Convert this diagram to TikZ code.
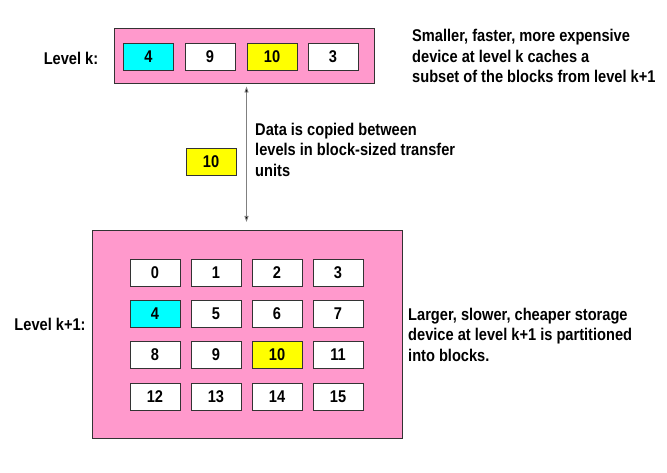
\documentclass[tikz,border=0pt]{standalone}
\usepackage{fontspec}
\setmainfont{Liberation Sans}[FakeStretch=0.86]
\usetikzlibrary{arrows.meta}
\definecolor{pinkbg}{HTML}{FF99CC}
\definecolor{edge}{HTML}{333333}
\definecolor{cyanfill}{HTML}{00FFFF}
\definecolor{yelfill}{HTML}{FFFF00}
\begin{document}
\begin{tikzpicture}[x=1pt,y=-1pt,
  lbl/.style={font=\fontsize{17}{21}\selectfont\bfseries},
  note/.style={font=\fontsize{17}{20.7}\selectfont\bfseries, align=left, anchor=north west, inner sep=0pt},
  device/.style={draw=edge, line width=1pt, fill=pinkbg},
  blk/.style={draw=edge, line width=0.8pt, fill=white, minimum width=50pt, minimum height=27pt, inner sep=0pt, font=\fontsize{17}{18}\selectfont\bfseries},
  cyanblk/.style={blk, fill=cyanfill},
  yelblk/.style={blk, fill=yelfill},
  xfer/.style={draw=gray, line width=0.8pt, {Triangle[length=6pt,width=4pt,fill=black]}-{Triangle[length=6pt,width=4pt,fill=black]}}
]
\useasboundingbox (0,0) rectangle (667,473);
% Level k
\node[device, minimum width=260pt, minimum height=55pt, inner sep=0pt] (top) at (244,56.5) {};
\node[lbl] (lk) at (71,58) {Level k:};
\node[cyanblk] (t4) at (148.5,57) {4};
\node[blk] (t9) at (210,57) {9};
\node[yelblk] (t10) at (272,57) {10};
\node[blk] (t3) at (333,57) {3};
\node[note] (ntop) at (412,29) {Smaller, faster, more expensive\\device at level k caches a\\subset of the blocks from level k+1};
% Level k+1
\node[device, minimum width=310pt, minimum height=207pt, inner sep=0pt] (bot) at (247,334.5) {};
\node[lbl] (lk1) at (50,324.5) {Level k+1:};
\foreach \n [count=\i from 0] in {0,...,15} {
  \pgfmathtruncatemacro{\c}{mod(\i,4)}
  \pgfmathtruncatemacro{\r}{div(\i,4)}
  \pgfmathsetmacro{\xx}{155+61*\c}
  \pgfmathsetmacro{\yy}{272.5+41.3*\r}
  \ifnum\n=4
    \node[cyanblk] (b\n) at (\xx,\yy) {\n};
  \else\ifnum\n=10
    \node[yelblk] (b\n) at (\xx,\yy) {\n};
  \else
    \node[blk] (b\n) at (\xx,\yy) {\n};
  \fi\fi
}
\node[note] (nbot) at (408,307.5) {Larger, slower, cheaper storage\\device at level k+1 is partitioned\\into blocks.};
% transfer
\coordinate (atop) at (246.5,86.5);
\coordinate (abot) at (246.5,222);
\draw[xfer] (atop) -- (abot);
\node[yelblk] (mid) at (211,162) {10};
\node[note] (nmid) at (255,122.5) {Data is copied between\\levels in block-sized transfer\\units};
\end{tikzpicture}
\end{document}
